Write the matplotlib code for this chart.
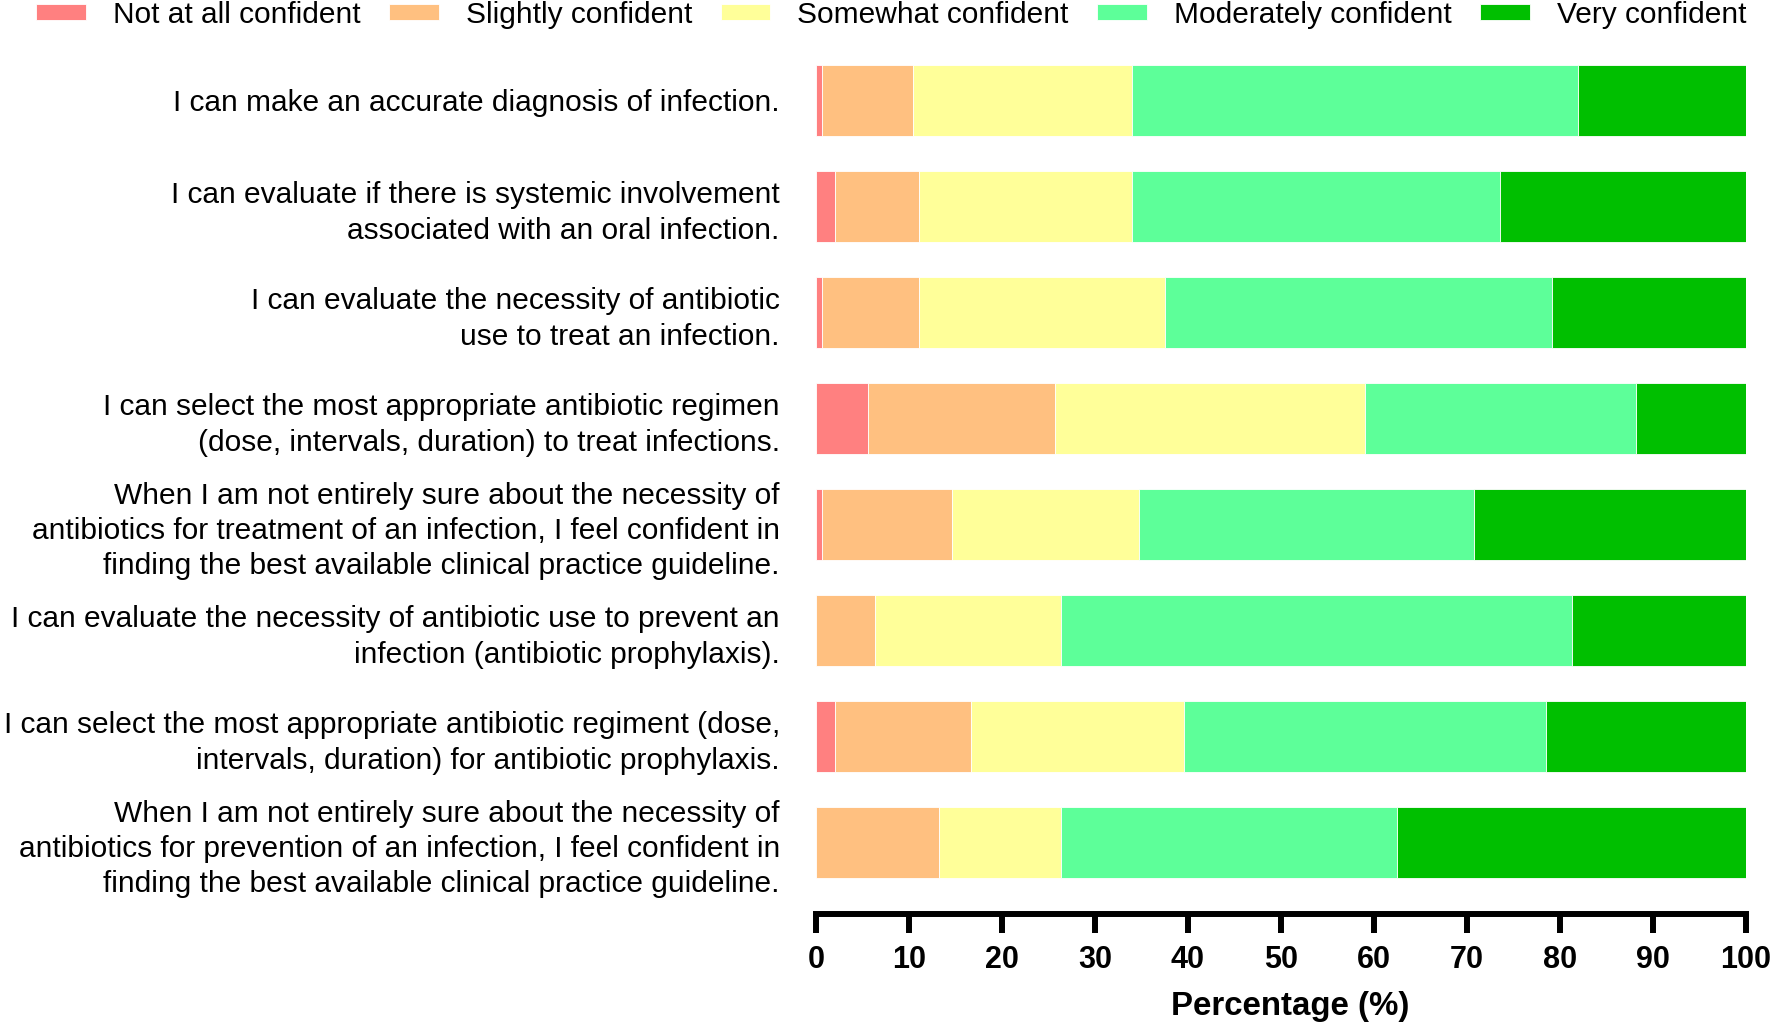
import matplotlib
matplotlib.use("Agg")
import matplotlib.pyplot as plt

plt.rcParams["font.family"] = ["Liberation Sans", "DejaVu Sans"]

# survey items, top to bottom
items = [
    "I can make an accurate diagnosis of infection.",
    "I can evaluate if there is systemic involvement\nassociated with an oral infection.",
    "I can evaluate the necessity of antibiotic\nuse to treat an infection.",
    "I can select the most appropriate antibiotic regimen\n(dose, intervals, duration) to treat infections.",
    "When I am not entirely sure about the necessity of\nantibiotics for treatment of an infection, I feel confident in\nfinding the best available clinical practice guideline.",
    "I can evaluate the necessity of antibiotic use to prevent an\ninfection (antibiotic prophylaxis).",
    "I can select the most appropriate antibiotic regiment (dose,\nintervals, duration) for antibiotic prophylaxis.",
    "When I am not entirely sure about the necessity of\nantibiotics for prevention of an infection, I feel confident in\nfinding the best available clinical practice guideline.",
]

levels = ["Not at all confident", "Slightly confident", "Somewhat confident",
          "Moderately confident", "Very confident"]
level_colors = ["#FF8080", "#FFC080", "#FFFF99", "#5DFF99", "#00BF00"]

# percentages per level (one list per level, same order as items)
not_at_all = [0.7, 2.1, 0.7, 5.6, 0.7, 0.0, 2.1, 0.0]
slightly = [9.7, 9.0, 10.4, 20.1, 13.9, 6.3, 14.6, 13.2]
somewhat = [23.6, 22.9, 26.4, 33.3, 20.1, 20.1, 22.9, 13.2]
moderately = [47.9, 39.6, 41.7, 29.2, 36.1, 54.9, 38.9, 36.1]
very = [18.1, 26.4, 20.8, 11.8, 29.2, 18.7, 21.5, 37.5]

x_ticks = list(range(0, 101, 10))

fig = plt.figure(figsize=(17.7, 10.24), dpi=100)
ax = fig.add_axes([0.461, 0.1074, 0.5254, 0.8646])

ypos = list(range(len(items)))
left = [0.0] * len(items)
for name, color, vals in zip(levels, level_colors,
                             [not_at_all, slightly, somewhat, moderately, very]):
    ax.barh(ypos, vals, left=left, height=0.67, color=color, label=name,
            edgecolor="white", linewidth=0.6)
    left = [a + b for a, b in zip(left, vals)]

ax.set_xlim(0, 100)
ax.set_ylim(7.675, -0.675)
ax.set_yticks(ypos)
ax.set_yticklabels(items, fontsize=21.5, linespacing=1.33)
ax.set_xticks(x_ticks)
ax.set_xticklabels([str(t) for t in x_ticks], fontsize=22, fontweight="bold")
ax.tick_params(axis="y", length=0, pad=26)
ax.tick_params(axis="x", direction="out", length=14, width=4.3, pad=8)
ax.set_xlabel("Percentage (%)", fontsize=23.8, fontweight="bold", labelpad=12)
ax.xaxis.label.set_x(0.51)

for side in ["left", "top", "right"]:
    ax.spines[side].set_visible(False)
ax.spines["bottom"].set_linewidth(4.3)

fig.legend(loc="center", bbox_to_anchor=(0.5035, 0.9855), ncol=5, frameon=False,
           fontsize=21.5, handlelength=1.67, handleheight=0.45,
           handletextpad=0.9, columnspacing=0.95, borderpad=0)

plt.savefig("out.png", dpi=100)
